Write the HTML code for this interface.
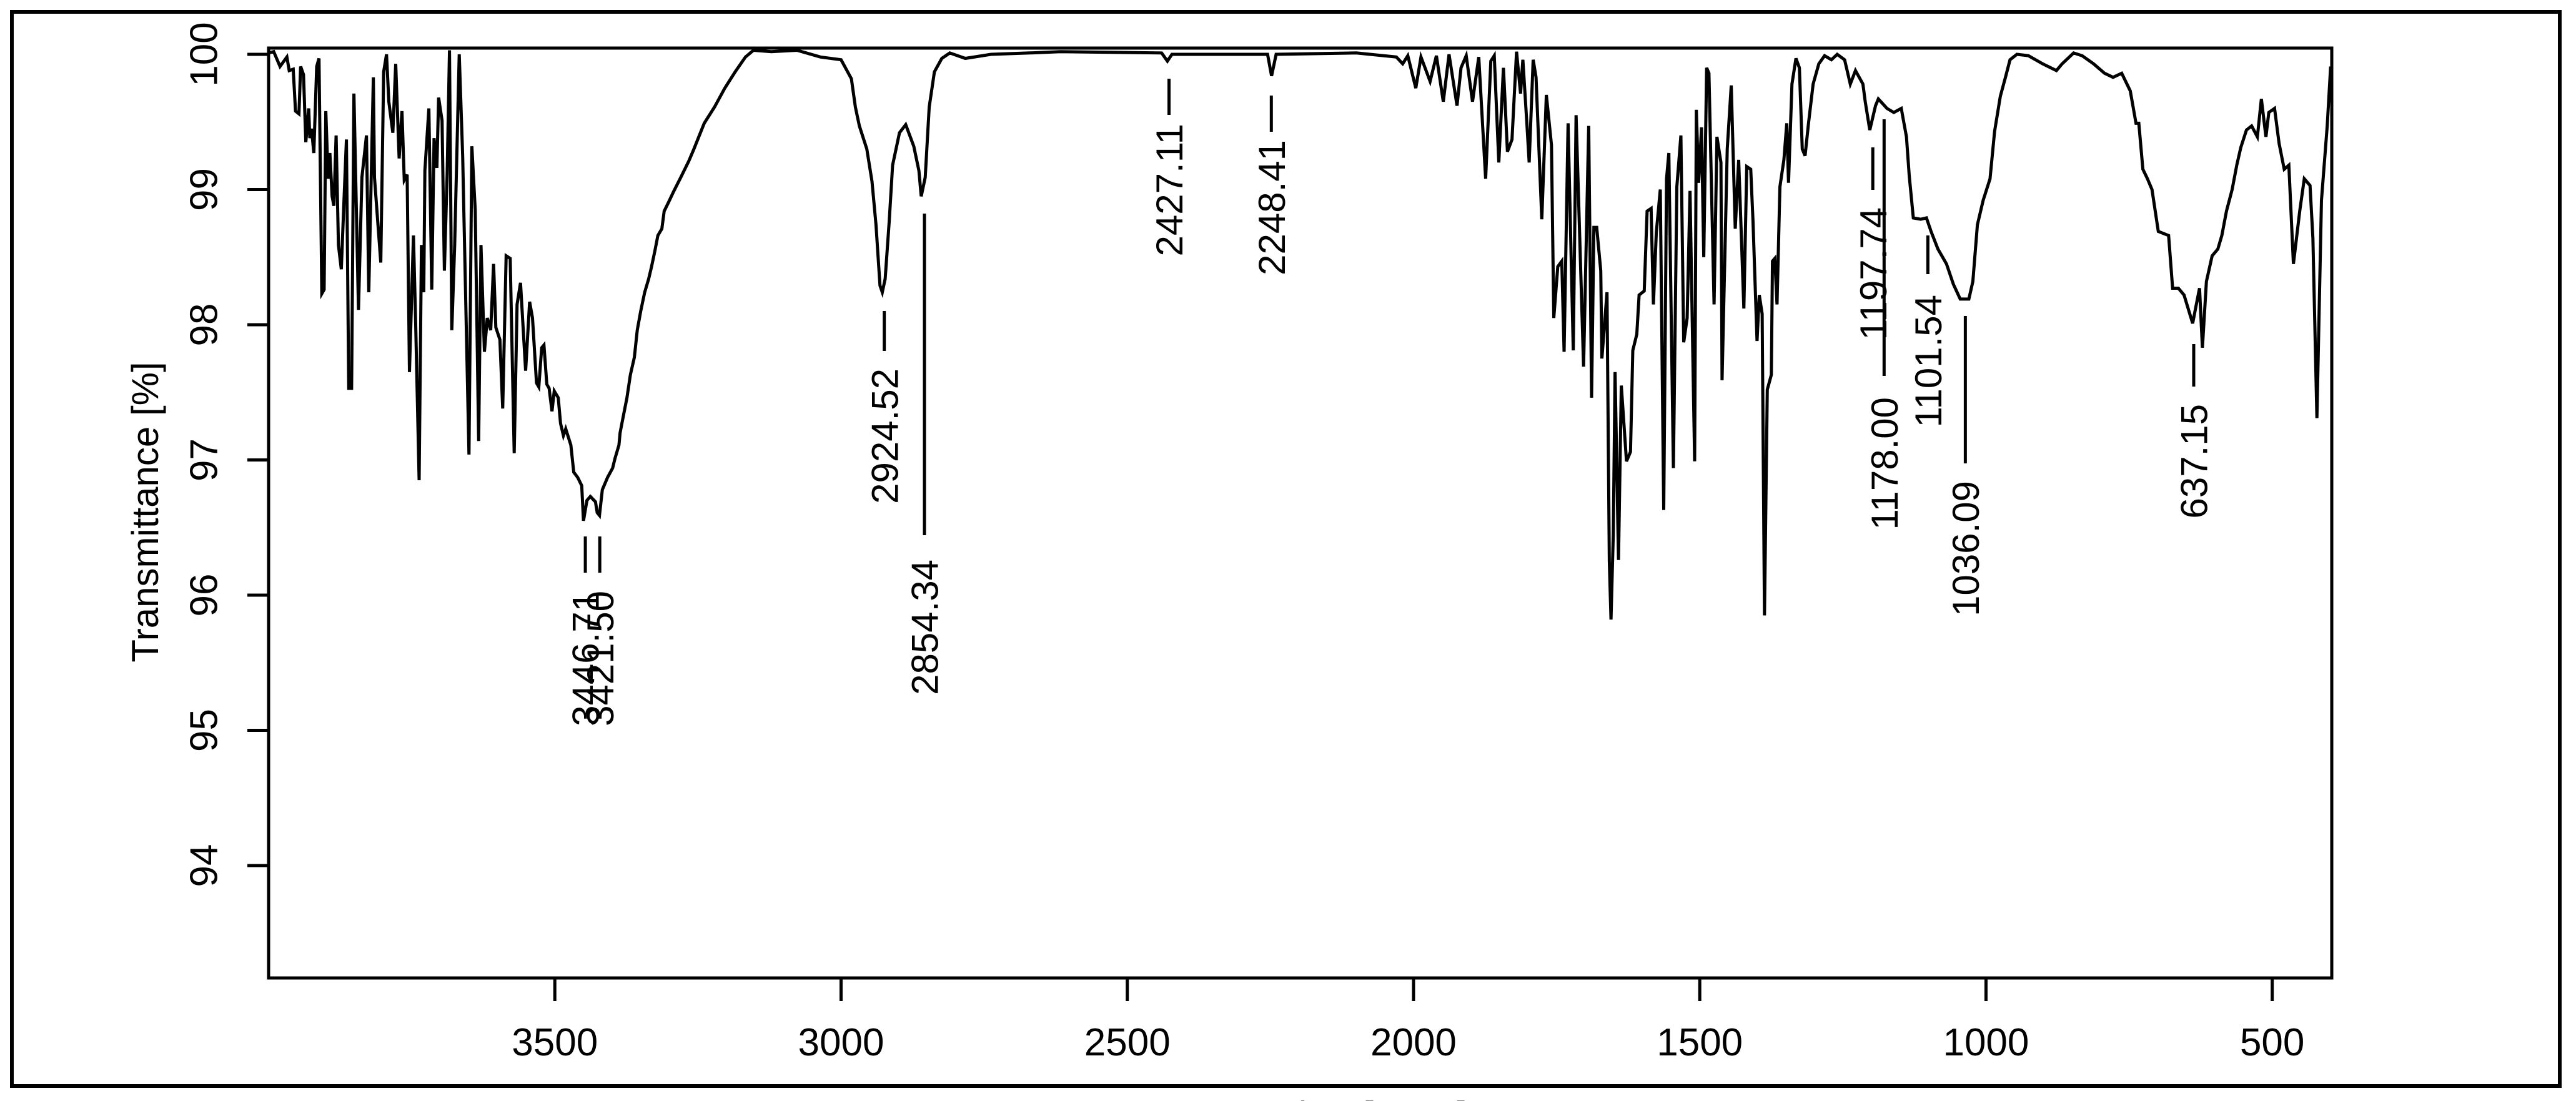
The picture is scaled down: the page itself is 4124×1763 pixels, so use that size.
<!DOCTYPE html>
<html>
<head>
<meta charset="utf-8">
<style>
html,body{margin:0;padding:0;background:#fff;}
svg{display:block;}
text{font-family:"Liberation Sans",Arial,sans-serif;fill:#000;}
</style>
</head>
<body>
<svg id="chart" width="4124" height="1763" viewBox="0 0 4124 1763" xmlns="http://www.w3.org/2000/svg">
  <rect x="0" y="0" width="4124" height="1763" fill="#fff"/>
  <text x="2080" y="1806" font-size="60" text-anchor="middle">Wavenumber [cm-1]</text>
  <rect x="19" y="19" width="4079" height="1720" fill="none" stroke="#000" stroke-width="6"/>
  <g id="axes"></g>
  <g id="series"></g>
  <g id="peaks"></g>
  <rect x="430" y="77" width="3303" height="1489" fill="none" stroke="#000" stroke-width="5"/>
  <text transform="translate(232,820) rotate(-90)" font-size="60" text-anchor="middle" dy="0.35em">Transmittance [%]</text>
</svg>
<script>
const xTicks = [3500, 3000, 2500, 2000, 1500, 1000, 500];
const yTicks = [94, 95, 96, 97, 98, 99, 100];
const wavenumbers = [
4000,3991,3980,3968,3964,3957,3953,3947,3944,3939,3935,3930,3928,3925,3921,3916,3912,3907,3903,3900,
3896,3893,3889,3886,3882,3878,3873,3869,3864,3860,3855,3851,3843,3837,3829,3825,3817,3815,3804,3799,
3794,3790,3783,3778,3772,3767,3763,3758,3754,3747,3743,3737,3733,3729,3727,3720,3715,3711,3706,3703,
3697,3693,3688,3684,3680,3675,3667,3661,3650,3645,3639,3633,3629,3623,3618,3612,3607,3603,3596,3591,
3585,3578,3571,3566,3560,3551,3544,3539,3532,3528,3523,3519,3514,3510,3505,3501,3494,3490,3485,3481,
3472,3467,3460,3453,3450,3444,3438,3429,3426,3422,3417,3408,3399,3395,3388,3386,3381,3374,3368,3361,
3356,3350,3343,3336,3331,3325,3320,3313,3309,3302,3292,
3280,3266,3257,3239,3221,3203,3185,3167,3153,3122,3077,3036,3000,2982,2975,2968,2955,2946,2939,2932,
2928,2923,2916,2910,2898,2887,2873,2864,2860,2853,2846,2837,2824,2810,2783,2738,2670,2617,
2440,2430,2422,2255,2248,2240,2100,2030,
2019,2010,1996,1987,1971,1960,1948,1938,1924,1917,1908,1897,1886,1874,1865,1859,1851,1843,1836,1828,
1820,1813,1809,1802,1798,1791,1786,1776,1768,1759,1755,1748,1741,1737,1730,1721,1716,1703,1694,1689,
1685,1680,1673,1671,1662,1658,1655,1651,1648,1642,1637,1628,1621,1617,1610,1606,1597,1592,1585,1581,
1576,1569,1563,1558,1554,1546,1540,1533,1528,1522,1517,1509,1506,1502,1497,1493,1488,1484,1475,1470,
1463,1461,1452,1445,1438,1432,1423,1418,1411,1407,1400,1396,1391,1387,1382,1375,1373,1369,1365,1360,
1353,1348,1345,1339,1332,1326,1321,1316,
1310,1302,1292,1282,1270,1260,1247,1237,1228,1215,1211,1203,1193,1188,1173,1161,1148,1139,1134,1127,
1114,1104,1096,1084,1069,1057,1045,1030,1023,1015,1005,993,985,975,966,958,946,926,901,877,
867,847,832,812,793,778,763,748,738,733,726,718,710,699,681,674,664,654,639,634,
627,622,615,605,595,588,580,570,562,555,545,536,526,519,511,506,496,488,479,471,
463,452,444,434,429,422,414,404,398
];
const transmittance = [
100.01,100.02,99.91,99.98,99.88,99.89,99.58,99.56,99.91,99.85,99.35,99.60,99.38,99.45,99.27,99.91,99.97,98.23,98.26,99.58,
99.08,99.27,98.95,98.88,99.40,98.59,98.41,98.85,99.37,97.53,97.53,99.71,98.11,99.09,99.40,98.24,99.83,99.09,98.46,99.87,
100.00,99.65,99.42,99.93,99.23,99.58,99.07,99.11,97.65,98.66,98.00,96.85,98.59,98.24,99.14,99.60,98.26,99.38,99.16,99.68,
99.51,98.40,99.12,100.03,97.96,98.59,100.00,99.25,97.04,99.32,98.85,97.14,98.59,97.80,98.05,97.96,98.45,97.98,97.89,97.38,
98.51,98.49,97.05,98.15,98.31,97.66,98.17,98.05,97.57,97.54,97.83,97.85,97.56,97.53,97.36,97.51,97.46,97.27,97.18,97.23,
97.11,96.91,96.87,96.81,96.55,96.70,96.73,96.69,96.61,96.59,96.78,96.87,96.94,97.01,97.11,97.20,97.31,97.46,97.63,97.76,
97.96,98.10,98.24,98.34,98.43,98.55,98.66,98.71,98.84,98.90,98.99,
99.09,99.21,99.30,99.49,99.61,99.75,99.87,99.98,100.03,100.02,100.03,99.98,99.96,99.82,99.61,99.47,99.30,99.06,98.74,98.29,
98.24,98.34,98.76,99.18,99.42,99.48,99.32,99.14,98.95,99.09,99.61,99.87,99.97,100.01,99.97,100.00,100.01,100.02,
100.01,99.95,100.00,100.00,99.84,100.00,100.01,99.98,
99.93,99.99,99.75,99.98,99.80,99.99,99.65,100.00,99.62,99.90,99.99,99.65,99.98,99.08,99.95,99.99,99.20,99.90,99.28,99.37,
100.02,99.71,99.96,99.49,99.20,99.96,99.83,98.78,99.70,99.33,98.05,98.43,98.47,97.80,99.49,97.81,99.55,97.69,99.47,97.46,
98.72,98.72,98.40,97.75,98.24,96.25,95.82,96.46,97.65,96.26,97.55,96.99,97.06,97.81,97.93,98.22,98.25,98.84,98.86,98.15,
98.68,99.00,96.63,99.08,99.27,96.94,99.02,99.40,97.87,98.05,98.99,96.99,99.59,99.05,99.46,98.50,99.90,99.86,98.15,99.39,
99.20,97.59,99.30,99.77,98.71,99.22,98.12,99.17,99.15,98.77,97.88,98.22,98.08,95.85,97.52,97.63,98.47,98.49,98.15,99.02,
99.22,99.49,99.05,99.78,99.97,99.90,99.30,99.25,
99.49,99.78,99.93,99.99,99.96,100.00,99.96,99.78,99.88,99.78,99.65,99.44,99.62,99.67,99.60,99.57,99.60,99.39,99.10,98.79,
98.78,98.79,98.69,98.56,98.45,98.30,98.19,98.19,98.32,98.74,98.92,99.08,99.43,99.69,99.83,99.96,100.00,99.99,99.93,99.88,
99.93,100.01,99.99,99.93,99.86,99.83,99.86,99.73,99.49,99.49,99.15,99.08,99.00,98.69,98.66,98.27,98.27,98.22,98.01,98.12,
98.27,97.83,98.32,98.51,98.56,98.66,98.84,99.00,99.18,99.31,99.44,99.47,99.39,99.67,99.39,99.57,99.60,99.34,99.15,99.18,
98.45,98.84,99.08,99.03,98.64,97.31,98.92,99.47,99.91
];
const peakWn = [3446.71, 3421.50, 2924.52, 2854.34, 2427.11, 2248.41, 1197.74, 1178.00, 1101.54, 1036.09, 637.15];
const peakText = ["3446.71","3421.50","2924.52","2854.34","2427.11","2248.41","1197.74","1178.00","1101.54","1036.09","637.15"];
// layout only: [lineTop, lineBottom, textTop] in pixels
const peakLayout = [[859,917,946],[859,917,946],[498,562,590],[342,857,896],[126,184,198],[153,211,224],[236,304,332],[191,602,636],[377,439,472],[506,742,770],[551,619,647]];

const X0 = 430, X1 = 3733, Y0 = 77, Y1 = 1566;
const WN_MAX = 4000, WN_MIN = 396;
const T_TOP = 100 + 10/216.5, T_BOT = 100 - (1566-87)/216.5;
function xs(w){ return X0 + (WN_MAX - w) / (WN_MAX - WN_MIN) * (X1 - X0); }
function ys(t){ return Y0 + (T_TOP - t) / (T_TOP - T_BOT) * (Y1 - Y0); }
const NS = "http://www.w3.org/2000/svg";
const axes = document.getElementById('axes');
const series = document.getElementById('series');
const peaks = document.getElementById('peaks');

xTicks.forEach(v => {
  const x = xs(v);
  const l = document.createElementNS(NS,'line');
  l.setAttribute('x1',x); l.setAttribute('x2',x); l.setAttribute('y1',Y1); l.setAttribute('y2',Y1+37);
  l.setAttribute('stroke','#000'); l.setAttribute('stroke-width','5');
  
  
  axes.appendChild(l);
  const t = document.createElementNS(NS,'text');
  t.setAttribute('x',x); t.setAttribute('y',1690); t.setAttribute('font-size','62'); t.setAttribute('text-anchor','middle');
  t.textContent = v;
  
  
  axes.appendChild(t);
});
yTicks.forEach(v => {
  const y = ys(v);
  const l = document.createElementNS(NS,'line');
  l.setAttribute('x1',X0-34); l.setAttribute('x2',X0); l.setAttribute('y1',y); l.setAttribute('y2',y);
  l.setAttribute('stroke','#000'); l.setAttribute('stroke-width','5');
  
  
  axes.appendChild(l);
  const t = document.createElementNS(NS,'text');
  t.setAttribute('transform','translate(326,'+y+') rotate(-90)');
  t.setAttribute('font-size','62'); t.setAttribute('text-anchor','middle'); t.setAttribute('dy','0.35em');
  t.textContent = v;
  
  
  axes.appendChild(t);
});

const pts = wavenumbers.map((w,i) => xs(w).toFixed(1) + ',' + ys(transmittance[i]).toFixed(1)).join(' ');
const pl = document.createElementNS(NS,'polyline');
pl.setAttribute('points', pts);
pl.setAttribute('fill','none'); pl.setAttribute('stroke','#000'); pl.setAttribute('stroke-width','5'); pl.setAttribute('stroke-linejoin','miter');


series.appendChild(pl);

peakWn.forEach((w,i) => {
  const x = xs(w);
  const lay = peakLayout[i];
  const l = document.createElementNS(NS,'line');
  l.setAttribute('x1',x); l.setAttribute('x2',x); l.setAttribute('y1',lay[0]); l.setAttribute('y2',lay[1]);
  l.setAttribute('stroke','#000'); l.setAttribute('stroke-width','5');
  
  
  peaks.appendChild(l);
  const t = document.createElementNS(NS,'text');
  t.setAttribute('transform','translate('+x+','+lay[2]+') rotate(-90)');
  t.setAttribute('font-size','60'); t.setAttribute('text-anchor','end'); t.setAttribute('dy','0.36em');
  t.textContent = peakText[i];
  
  
  peaks.appendChild(t);
});
</script>
</body>
</html>
